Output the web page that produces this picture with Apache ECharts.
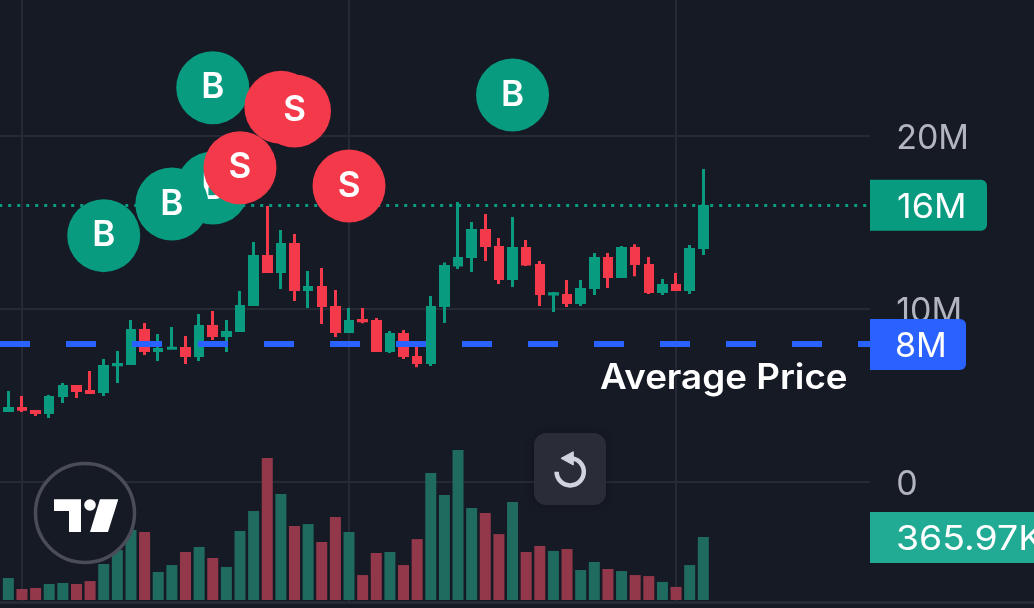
<!DOCTYPE html>
<html>
<head>
<meta charset="utf-8">
<style>
  html, body { margin: 0; padding: 0; background: #161a25; overflow: hidden; }
  #chart { width: 1034px; height: 608px; }
</style>
</head>
<body>
<div id="chart"></div>
<script src="https://cdn.jsdelivr.net/npm/echarts@6/dist/echarts.min.js"></script>
<script>
// prices in millions, volume in thousands
const opens = [4.05,4.34,4.16,3.93,4.91,5.61,5.32,5.15,6.69,6.76,8.85,7.52,7.65,7.80,7.23,9.08,8.38,8.67,10.17,13.12,12.08,13.82,11.04,11.33,10.17,8.61,9.42,9.36,7.51,8.61,7.28,6.82,10.11,12.46,12.95,14.62,13.64,11.67,13.58,12.60,10.83,10.86,10.29,11.15,13.0,11.79,13.58,12.60,10.92,11.44,11.04,13.47]
const closes = [4.34,4.12,3.93,4.97,5.61,5.20,5.09,6.76,6.88,8.85,7.52,7.75,7.80,7.23,9.08,8.38,8.73,10.23,13.12,12.08,13.82,11.04,11.33,10.12,8.61,9.36,9.23,7.51,8.61,7.22,6.82,10.17,12.54,13.0,14.62,13.58,11.67,13.58,12.52,10.81,10.92,10.29,11.21,13.0,11.79,13.58,12.54,10.92,11.44,11.04,13.52,16.01]
const lows = [4.05,4.05,3.82,3.70,4.57,4.86,5.09,4.97,5.72,6.76,7.34,7.0,7.65,6.82,7.0,8.21,7.52,8.67,10.17,12.08,11.16,10.46,10.06,9.14,8.38,8.61,9.17,7.51,7.45,7.11,6.64,6.70,9.19,12.31,12.14,12.77,11.44,11.27,12.48,10.17,9.82,10.11,10.17,10.81,11.21,11.79,11.9,10.86,10.81,11.04,10.86,13.12]
const highs = [5.26,4.97,4.16,5.03,5.72,5.61,6.42,7.11,7.57,9.37,9.19,8.56,8.96,8.44,9.71,9.89,9.37,11.04,13.87,15.95,14.57,14.34,12.2,12.37,11.10,10.06,10.06,9.48,8.73,8.78,7.8,10.75,12.69,16.18,15.03,15.49,14.1,15.32,13.99,12.77,10.98,11.67,11.67,13.23,13.23,13.64,13.75,13.0,11.73,12.08,13.70,18.09]
const volumes = [128,64,70,93,99,93,110,209,290,407,395,163,203,279,308,244,192,401,517,825,616,430,441,337,482,395,145,273,279,203,354,738,610,871,534,505,383,569,279,314,285,296,174,221,180,168,145,139,105,76,203,365.97]

// buy / sell bubbles, in paint order
const signalBars = [15,15,12,7,37,20,21,17,25]
const signalPrices = [22.79,16.99,16.07,14.24,22.37,21.66,21.45,18.17,17.11]
const signalSides = ['B','B','B','B','B','S','S','S','S']

const priceTicks = { 0: '0', 10: '10M', 20: '20M' }
const gridBars = [1,25,49]
const lastPrice = 16
const averagePrice = 8

const UP = '#089b80'
const DOWN = '#f4394a'
const BG = '#161a25'
const GRID_LINE = '#262a35'
const FONT = 'Inter, "Noto Sans", sans-serif'

// one empty band in front and some behind, the pane runs on past the last bar
const LEAD = 1
const BANDS = 65
const BAND = 13.627
const paneLeft = -12.1
const paneWidth = BANDS * BAND

// candle border is 3px, it paints 1.5px past the body on each side (17.3px per 1M)
const BORDER_INSET = 1.5 / 17.3

const categories = []
for (let i = 0; i < BANDS; i++) categories.push('bar' + i)
const pad = (list) => new Array(LEAD).fill('-').concat(list)

const candleData = opens.map((o, i) => {
  const c = closes[i]
  const mid = (o + c) / 2
  const half = Math.max(Math.abs(c - o) / 2 - BORDER_INSET, 0.001)
  const dir = c > o ? 1 : -1
  return [mid - dir * half, mid + dir * half, lows[i], highs[i]]
})
const volumeData = volumes.map((v, i) => ({
  value: v,
  itemStyle: { color: closes[i] > opens[i] ? '#1f6b60' : '#93384a' }
}))

const signalSeries = signalBars.map((bar, i) => ({
  type: 'scatter',
  z: 10 + i,
  silent: true,
  symbolSize: 73,
  itemStyle: { color: signalSides[i] === 'B' ? UP : DOWN, opacity: 1 },
  label: {
    show: true,
    position: 'inside',
    formatter: signalSides[i],
    color: '#fff',
    fontFamily: FONT,
    fontWeight: 600,
    fontSize: 35
  },
  data: [[categories[bar + LEAD], signalPrices[i]]]
}))

const chart = echarts.init(document.getElementById('chart'), null, { renderer: 'canvas' })

const option = {
  animation: false,
  backgroundColor: BG,
  grid: [
    // outerBoundsMode off, the panes hang outside the canvas on purpose
    { left: paneLeft, top: -37, width: paneWidth, height: 692, outerBoundsMode: 'none' },
    { left: paneLeft, top: 427.85, width: paneWidth, height: 172.15, outerBoundsMode: 'none' }
  ],
  xAxis: [
    { type: 'category', gridIndex: 0, data: categories, show: false },
    { type: 'category', gridIndex: 1, data: categories, show: false }
  ],
  yAxis: [
    {
      type: 'value',
      gridIndex: 0,
      position: 'right',
      min: -10,
      max: 30,
      interval: 10,
      axisLine: { show: false },
      axisTick: { show: false },
      splitLine: { lineStyle: { color: GRID_LINE, width: 2 } },
      axisLabel: {
        margin: 22.5,
        formatter: (v) => (priceTicks[v] ? '{tick|' + priceTicks[v] + '}' : ''),
        rich: {
          tick: {
            color: '#b2b5be',
            fontFamily: FONT,
            fontSize: 34,
            padding: [6, 0, 0, 0]
          }
        }
      }
    },
    { type: 'value', gridIndex: 1, min: 0, max: 1000, show: false }
  ],
  series: [
    {
      // only carries the vertical grid lines
      type: 'line',
      data: [],
      silent: true,
      markLine: {
        z: 1,
        silent: true,
        symbol: 'none',
        label: { show: false },
        lineStyle: { color: GRID_LINE, width: 2, type: 'solid' },
        data: gridBars.map((b) => ({ xAxis: categories[b + LEAD] }))
      }
    },
    {
      type: 'bar',
      xAxisIndex: 1,
      yAxisIndex: 1,
      z: 1,
      barWidth: 11,
      silent: true,
      data: pad(volumeData)
    },
    {
      type: 'candlestick',
      z: 2,
      silent: true,
      barWidth: 8,
      itemStyle: {
        color: UP,
        color0: DOWN,
        borderColor: UP,
        borderColor0: DOWN,
        borderWidth: 3
      },
      data: pad(candleData),
      markLine: {
        z: 5,
        silent: true,
        symbol: 'none',
        label: { show: false },
        data: [
          { yAxis: lastPrice, lineStyle: { color: UP, width: 3, type: [3, 6], dashOffset: 6.7 } },
          { yAxis: averagePrice, lineStyle: { color: '#2962ff', width: 6, type: [30, 36], dashOffset: 53.9 } }
        ]
      }
    }
  ].concat(signalSeries)
}
chart.setOption(option)

// price tags follow the axes
const yOf = (v) => chart.convertToPixel({ yAxisIndex: 0 }, v)
const yOfVolume = (v) => chart.convertToPixel({ yAxisIndex: 1 }, v)

const tag = (y, width, fill, text, textX, stretch) => [
  {
    type: 'rect',
    z: 20,
    shape: { x: 870, y: y - 25.5, width: width, height: 51, r: [0, 6, 6, 0] },
    style: { fill: fill }
  },
  {
    type: 'text',
    z: 21,
    x: textX,
    y: y + 2.5,
    scaleX: stretch,
    style: {
      text: text,
      fill: '#fff',
      font: '34px ' + FONT,
      textVerticalAlign: 'middle'
    }
  }
]

chart.setOption({
  graphic: [
    // trim grid lines at the price scale
    { type: 'rect', z: 15, shape: { x: 870, y: 0, width: 10, height: 600 }, style: { fill: BG } },
    // time scale border
    { type: 'rect', z: 15, shape: { x: 0, y: 604, width: 1034, height: 4 }, style: { fill: BG } },
    { type: 'rect', z: 15, shape: { x: 0, y: 601, width: 1034, height: 3 }, style: { fill: GRID_LINE } }
  ].concat(
    tag(yOf(lastPrice), 117, UP, '16M', 897, 1.06),
    tag(yOf(averagePrice) + 1, 96, '#2962ff', '8M', 895, 1),
    tag(yOfVolume(volumes[volumes.length - 1]) + 0.5, 200, '#22ab94', '365.97K', 896, 1.1),
    [
      {
        type: 'text',
        z: 21,
        x: 600,
        y: 378,
        scaleX: 1.05,
        style: {
          text: 'Average Price',
          fill: '#fff',
          font: '600 35px ' + FONT,
          textVerticalAlign: 'middle'
        }
      },
      // logo
      {
        type: 'circle',
        z: 22,
        shape: { cx: 85, cy: 513, r: 49.5 },
        style: { fill: BG, stroke: '#4a4c58', lineWidth: 3.5 }
      },
      {
        type: 'polygon',
        z: 23,
        shape: { points: [[54, 499.3], [81, 499.3], [81, 532], [69, 532], [69, 511], [54, 511]] },
        style: { fill: '#fff' }
      },
      { type: 'circle', z: 23, shape: { cx: 90, cy: 505, r: 5.8 }, style: { fill: '#fff' } },
      {
        type: 'polygon',
        z: 23,
        shape: { points: [[100, 499.3], [118.3, 499.3], [108, 532], [90, 532]] },
        style: { fill: '#fff' }
      },
      // reset button
      {
        type: 'rect',
        z: 22,
        shape: { x: 534, y: 433, width: 72, height: 72, r: 12 },
        style: { fill: '#2a2d38', shadowBlur: 8, shadowColor: 'rgba(0,0,0,0.25)' }
      },
      {
        type: 'arc',
        z: 23,
        shape: { cx: 570.2, cy: 471.8, r: 13.6, startAngle: -Math.PI / 2, endAngle: Math.PI, clockwise: true },
        style: { fill: 'none', stroke: '#d1d4dc', lineWidth: 4.5 }
      },
      {
        type: 'polygon',
        z: 23,
        shape: { points: [[573.3, 451.7], [561, 458.3], [573.3, 465]] },
        style: { fill: '#d1d4dc', stroke: '#d1d4dc', lineWidth: 1, lineJoin: 'round' }
      }
    ]
  )
})
</script>
</body>
</html>
